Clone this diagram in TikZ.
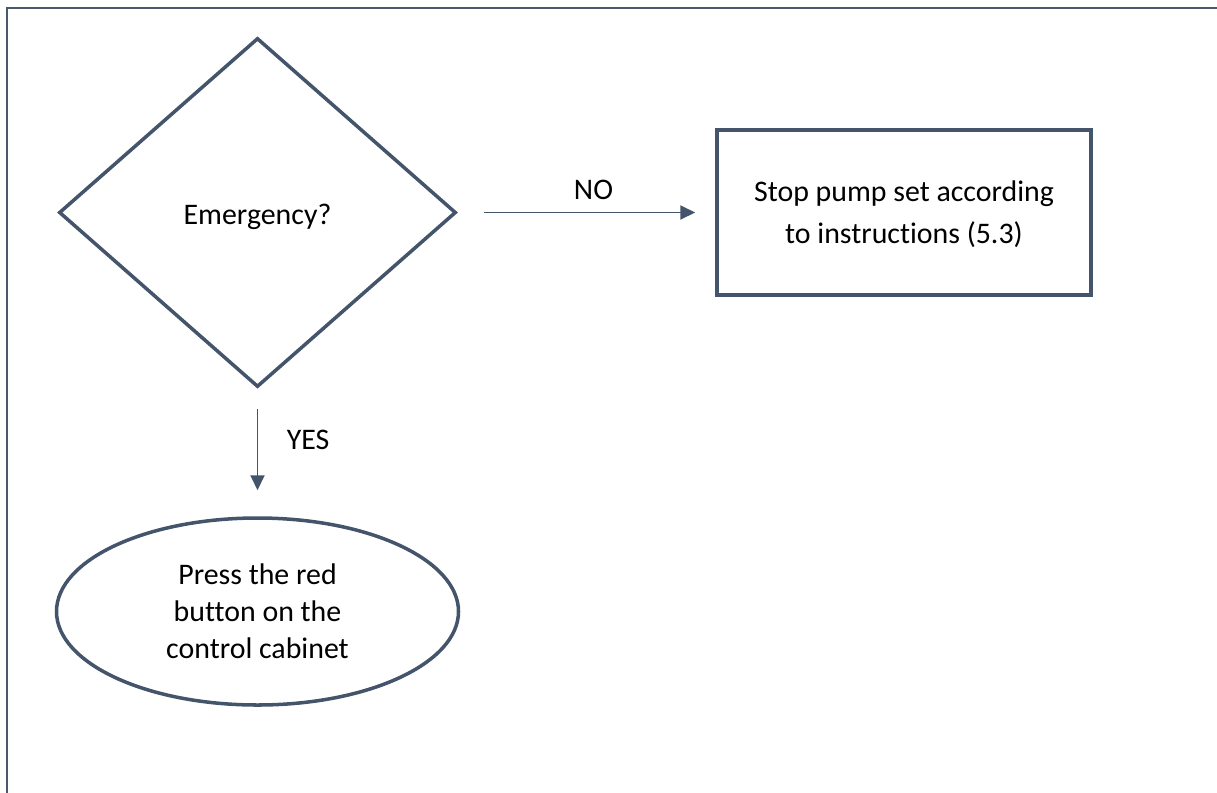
\documentclass[tikz,border=0pt]{standalone}
\usepackage{fontspec}
\setmainfont[Ligatures={NoCommon}]{Carlito}
\usetikzlibrary{shapes.geometric,arrows.meta}
\definecolor{linie}{HTML}{44546A}
\definecolor{rahmen}{HTML}{4A5870}
\begin{document}
\begin{tikzpicture}
\tikzset{frage/.style={diamond,draw=linie,line width=2pt,minimum width=7.94cm,minimum height=6.98cm,inner sep=0pt,text depth=0pt,font=\fontsize{17}{20}\selectfont},
kasten/.style={rectangle,draw=linie,line width=2pt,minimum width=7.48cm,minimum height=3.3cm,align=center,text depth=0pt,font=\fontsize{17}{24}\selectfont},
oval/.style={ellipse,draw=linie,line width=2pt,minimum width=8.04cm,minimum height=3.74cm,inner sep=0pt,align=center,font=\fontsize{17}{21}\selectfont},
pfeil/.style={draw=linie,line width=1.1pt,-{Triangle[length=0.3cm,width=0.28cm]}},
beschr/.style={font=\fontsize{17}{20}\selectfont}}
\useasboundingbox (0,0) rectangle (24.34,-15.84);
\draw[rahmen,line width=1.2pt] (0.14,-15.9) -- (0.14,-0.16) -- (24.4,-0.16);
\node [frage] (notfall) at (5.15,-4.25) {\raisebox{-2pt}{Emergency?}};
\node [kasten] (stopp) at (18.08,-4.25) {Stop pump set according\\to instructions (5.3)};
\node [oval] (knopf) at (5.15,-12.23) {Press the red\\button on the\\control cabinet};
\draw[pfeil,shorten <=0.52cm,shorten >=0.4cm] (notfall) to node[beschr,midway,above=0.12cm,xshift=0.14cm] {NO} (stopp);
\draw[pfeil,shorten <=0.4cm,shorten >=0.52cm] (notfall) to node[beschr,midway,right=0.45cm,yshift=0.26cm] {YES} (knopf);
\end{tikzpicture}
\end{document}
